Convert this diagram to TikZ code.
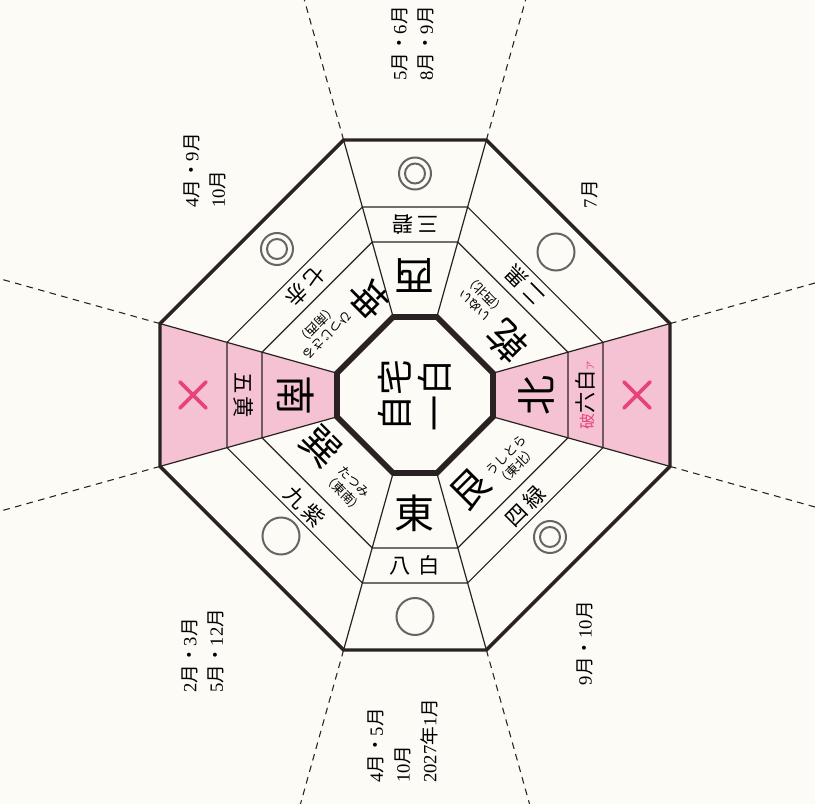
\documentclass[tikz,border=0pt]{standalone}
\usepackage{fontspec}
\setmainfont{Liberation Serif}
\newfontfamily\jp{Noto Sans CJK JP}
\definecolor{ink}{RGB}{42,34,34}
\definecolor{pinkbg}{RGB}{245,194,211}
\definecolor{mag}{RGB}{232,68,124}
\definecolor{paper}{RGB}{252,251,246}
\definecolor{circ}{RGB}{105,100,100}
\newcommand\tk{{\jp 月}}
\newcommand\tn{{\jp ・}}
\newcommand\nen{{\jp 年}}
\newcommand\smallkana[2]{{\fontsize{9.5}{11.5}\selectfont\begin{tabular}{@{}c@{}}#1\\#2\end{tabular}}}
\begin{document}
\begin{tikzpicture}[x=0.75pt,y=0.75pt,
  thinline/.style={draw=ink,line width=0.9pt},
  thickout/.style={draw=ink,line width=2.6pt,line join=miter},
  thickin/.style={draw=ink,line width=4.3pt,line join=miter},
  dashline/.style={draw=ink,line width=0.8pt,dash pattern=on 5pt off 4pt},
  circline/.style={draw=circ,line width=1.5pt},
  xmark/.style={draw=mag,line width=2.8pt,line cap=round},
  bigc/.style={font=\jp\fontsize{30}{30}\selectfont,inner sep=0pt},
  diagc/.style={font=\jp\fontsize{29}{29}\selectfont,inner sep=0pt},
  bandt/.style={font=\jp\fontsize{16}{16}\selectfont,inner sep=0pt},
  month/.style={rotate=90,font=\fontsize{14}{20}\selectfont,align=left,inner sep=0pt}]
\clip (-415,-409) rectangle (400,395);
\fill[paper] (-415,-409) rectangle (400,395);
% ring vertices
\foreach \r/\a in {i/78,a/153,b/188,o/255,d/640}{
  \coordinate (\r1) at (0.28*\a,\a);
  \coordinate (\r2) at (\a,0.28*\a);
  \coordinate (\r3) at (\a,-0.28*\a);
  \coordinate (\r4) at (0.28*\a,-\a);
  \coordinate (\r5) at (-0.28*\a,-\a);
  \coordinate (\r6) at (-\a,-0.28*\a);
  \coordinate (\r7) at (-\a,0.28*\a);
  \coordinate (\r8) at (-0.28*\a,\a);
}
% pink sectors (north on the right, south on the left)
\fill[pinkbg] (i2) -- (o2) -- (o3) -- (i3) -- cycle;
\fill[pinkbg] (i6) -- (o6) -- (o7) -- (i7) -- cycle;
% dashed extensions
\foreach \k in {1,...,8}{\draw[dashline] (o\k) -- (d\k);}
% rings
\draw[thinline] (a1)--(a2)--(a3)--(a4)--(a5)--(a6)--(a7)--(a8)--cycle;
\draw[thinline] (b1)--(b2)--(b3)--(b4)--(b5)--(b6)--(b7)--(b8)--cycle;
\foreach \k in {1,...,8}{\draw[thinline] (i\k) -- (o\k);}
\draw[thickout] (o1)--(o2)--(o3)--(o4)--(o5)--(o6)--(o7)--(o8)--cycle;
\draw[thickin,fill=paper] (i1)--(i2)--(i3)--(i4)--(i5)--(i6)--(i7)--(i8)--cycle;
% centre
\node[rotate=90,font=\jp\fontsize{27}{30}\selectfont,align=center,inner sep=0pt] (home) at (0,0) {自宅\\一白};
% cardinal sectors
\node[bigc,rotate=180] (west) at (0,120) {西};
\node[bandt,rotate=180] (westb) at (0,170.5) {三\hspace{3pt}碧};
\coordinate (cw) at (0,221.5);
\draw[circline] (cw) circle[radius=16];
\draw[circline] (cw) circle[radius=10];
\node[bigc] (east) at (0,-118) {東};
\node[bandt] (eastb) at (0,-170.5) {八\hspace{6pt}白};
\coordinate (ce) at (0,-221.5);
\draw[circline] (ce) circle[radius=18.5];
\node[bigc,rotate=-90] (south) at (-119,0) {南};
\node[bandt,rotate=-90] (southb) at (-171,0) {五\hspace{2pt}黄};
\coordinate (xs) at (-222,0);
\draw[xmark] (xs) ++(-13,-13) -- ++(26,26);
\draw[xmark] (xs) ++(-13,13) -- ++(26,-26);
\node[bigc,rotate=90] (north) at (121,0) {北};
\node[bandt,rotate=90] (northb) at (170.5,0) {{\color{mag}\fontsize{12}{12}\selectfont 破}六白{\color{mag}\fontsize{7}{7}\selectfont ア}};
\coordinate (xn) at (222,0);
\draw[xmark] (xn) ++(-13,-13) -- ++(26,26);
\draw[xmark] (xn) ++(-13,13) -- ++(26,-26);
% diagonal sectors
\node[diagc,rotate=135] (nw) at (76,76) {乾\hspace{3pt}\smallkana{いぬい}{（西北）}};
\node[bandt,rotate=135] (nwb) at (110,110) {二\hspace{3pt}黒};
\coordinate (cnw) at (141,143);
\draw[circline] (cnw) circle[radius=18.5];
\node[diagc,rotate=225] (sw) at (-74,76) {坤\hspace{3pt}\smallkana{ひつじさる}{（南西）}};
\node[bandt,rotate=225] (swb) at (-109,109) {七\hspace{3pt}赤};
\coordinate (csw) at (-138,146);
\draw[circline] (csw) circle[radius=16];
\draw[circline] (csw) circle[radius=10];
\node[diagc,rotate=-45] (se) at (-78,-74) {巽\hspace{3pt}\smallkana{たつみ}{（東南）}};
\node[bandt,rotate=-45] (seb) at (-110,-111) {九\hspace{3pt}紫};
\coordinate (cse) at (-134,-141);
\draw[circline] (cse) circle[radius=18.5];
\node[diagc,rotate=45] (ne) at (78,-78) {艮\hspace{3pt}\smallkana{うしとら}{（東北）}};
\node[bandt,rotate=45] (neb) at (110,-111) {四\hspace{3pt}緑};
\coordinate (cne) at (135,-142);
\draw[circline] (cne) circle[radius=16];
\draw[circline] (cne) circle[radius=10];
% months
\node[month,align=center] (m1) at (-2,351.5) {5\tk\tn 6\tk\\8\tk\tn 9\tk};
\node[month,anchor=west] (m2) at (-210,187) {4\tk\tn 9\tk\\10\tk};
\node[month] (m3) at (175,201) {7\tk};
\node[month,anchor=west] (m4) at (-212,-298) {2\tk\tn 3\tk\\5\tk\tn 12\tk};
\node[month,anchor=west] (m5) at (-12,-388) {4\tk\tn 5\tk\\10\tk\\2027\nen 1\tk};
\node[month] (m6) at (170,-248) {9\tk\tn 10\tk};
\end{tikzpicture}
\end{document}
